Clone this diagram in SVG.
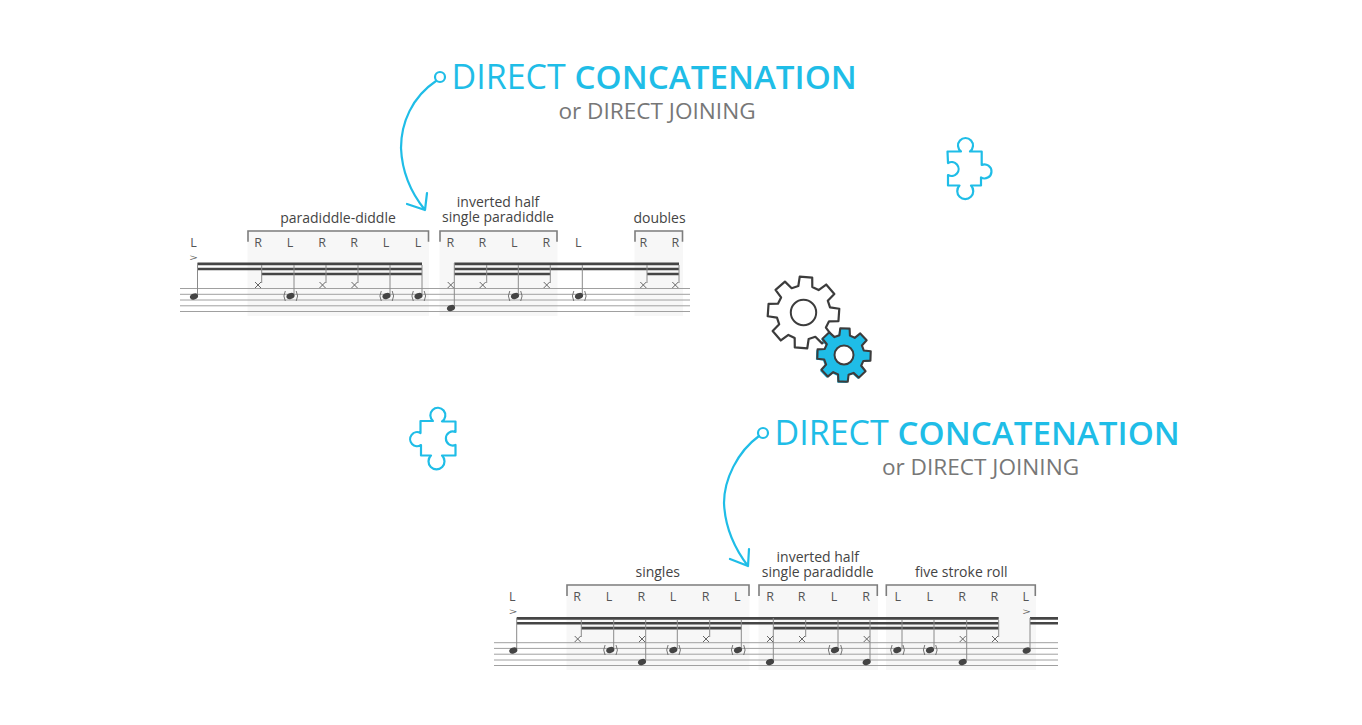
<svg xmlns="http://www.w3.org/2000/svg" width="1362" height="725" viewBox="0 0 1362 725">
<style>
text{font-family:"Open Sans","Noto Sans","Liberation Sans",sans-serif}
.t1{font-size:34px;fill:#1fbde7}
.t1 .b{font-weight:600;font-size:33.2px}
.t2{font-size:22.6px;fill:#777;text-anchor:middle}
.lab{font-size:14px;fill:#444;text-anchor:middle}
.hand{font-size:12.5px;fill:#555;text-anchor:middle}
.acc{font-size:13px;fill:#555;text-anchor:middle}
.bg{fill:#f7f7f7}
.brk{fill:none;stroke:#7d7d7d;stroke-width:1.6}
.staff{stroke:#a0a0a0;stroke-width:1;fill:none}
.beam{fill:#454545}
.stem{stroke:#8a8a8a;stroke-width:1;fill:none}
.blue{fill:none;stroke:#1fbde7;stroke-width:2.2;stroke-linecap:round;stroke-linejoin:round}
.gear{stroke:#3c3c3c;stroke-linejoin:round}
</style>
<defs>
<g id="x"><path d="M-3 -3L3 3M3 -3L-3 3" stroke="#666" stroke-width="1" fill="none"/></g>
<ellipse id="n" rx="4.2" ry="3" transform="rotate(-22)" fill="#444"/>
<g id="gn"><ellipse rx="4.2" ry="3" transform="rotate(-22)" fill="#444"/><path d="M-5.2 -5Q-8 0 -5.2 5M5.7 -5Q8.5 0 5.7 5" stroke="#666" stroke-width="0.9" fill="none"/></g>
<path id="gear" d="M-7 -26.1L-6.25 -35.45L6.25 -35.45L7 -26.1L13.5 -23.4L20.65 -29.49L29.49 -20.65L23.4 -13.5L26.1 -7L35.45 -6.25L35.45 6.25L26.1 7L23.4 13.5L29.49 20.65L20.65 29.49L13.5 23.4L7 26.1L6.25 35.45L-6.25 35.45L-7 26.1L-13.5 23.4L-20.65 29.49L-29.49 20.65L-23.4 13.5L-26.1 7L-35.45 6.25L-35.45 -6.25L-26.1 -7L-23.4 -13.5L-29.49 -20.65L-20.65 -29.49L-13.5 -23.4Z"/>
</defs>
<rect width="1362" height="725" fill="#fff"/>

<g id="title-top">
<text class="t1" x="451.5" y="89">DIRECT <tspan class="b">CONCATENATION</tspan></text>
<text class="t2" x="657" y="119">or DIRECT JOINING</text>
</g>
<g id="title-bottom">
<text class="t1" x="774.5" y="445">DIRECT <tspan class="b">CONCATENATION</tspan></text>
<text class="t2" x="980.5" y="475">or DIRECT JOINING</text>
</g>

<g id="connectors">
<g id="arrow-top" class="blue">
<circle cx="440" cy="77" r="5"/>
<path d="M436 81C412 97 401 123 401 148C402 172 412 194 425 210M407 204L425 210L427 193"/>
</g>
<g id="arrow-bottom" class="blue">
<circle cx="763" cy="433" r="5"/>
<path d="M759 436C737 452 724 480 724 503C725 527 735 549 748 566M730 559L748 566L749 549"/>
</g>
</g>

<g id="puzzle-top"><path class="blue" d="M947.5 151.5H961A7.5 7.5 0 1 1 970 151.5H981.7V165A7 7 0 1 1 981 177.5V185.5H971A8 8 0 1 1 959.5 185.5H948V175A7 7 0 1 0 948 163Z" stroke-width="1.8"/></g>
<g id="puzzle-bottom"><path class="blue" d="M420.5 421H433A7.5 7.5 0 1 1 442 421.5H455.5V432A7 7 0 1 0 455.5 445V455.5H442A8 8 0 1 1 431 455.5H421V445A7 7 0 1 1 420.5 433Z" stroke-width="1.8"/></g>

<g id="gears">
<g id="gear-large" transform="translate(803.5 312.5) rotate(4)"><use href="#gear" class="gear" fill="#fff" stroke-width="2.2"/></g>
<circle cx="803.5" cy="312.5" r="12.7" fill="#fff" stroke="#3c3c3c" stroke-width="2"/>
<g id="gear-small">
<use href="#gear" transform="translate(843 356) rotate(2) scale(.76)" fill="#1fbde7"/>
<use href="#gear" transform="translate(844 355) rotate(2) scale(.75)" class="gear" fill="#1fbde7" stroke-width="2.8"/>
<circle cx="844" cy="355" r="9.5" fill="#fff" stroke="#3c3c3c" stroke-width="2"/>
</g>
</g>

<g id="staff-top">
<rect class="bg" x="247.5" y="230" width="181.5" height="86"/>
<rect class="bg" x="439.5" y="230" width="118" height="86"/>
<rect class="bg" x="634.5" y="230" width="48.5" height="86"/>
<path class="staff" d="M180 288.5H690M180 294.3H690M180 300H690M180 305.8H690M180 311.5H690"/>
<path class="brk" d="M248 241.7V231H428.5V241.7M440 241.7V231H557V241.7M635 241.7V231H682.5V241.7"/>
<path class="beam" d="M197.5 262.5H422V265.2H197.5ZM197.5 267.7H422V270.3H197.5ZM261.7 272.7H422V275.3H261.7ZM454.3 262.5H679V265.2H454.3ZM454.3 267.7H679V270.3H454.3ZM454.3 272.7H550.3V275.3H454.3ZM647 272.7H679V275.3H647Z"/>
<path class="stem" d="M197.5 263V295M261.7 265V283M294 265V294M326 265V283M358 265V283M390 265V294M422 265V294M454.3 263V306M486.7 265V283M518.3 265V294M550.3 265V283M582.3 265V294M647 265V283M679 265V283"/>
<use href="#n" x="194" y="296.5"/>
<use href="#gn" x="290.5" y="296"/><use href="#gn" x="386.5" y="296"/><use href="#gn" x="418.5" y="296"/>
<use href="#gn" x="515" y="296"/><use href="#gn" x="579" y="296"/>
<use href="#n" x="451" y="308"/>
<use href="#x" x="258" y="285"/><use href="#x" x="322.5" y="285"/><use href="#x" x="354.5" y="285"/><use href="#x" x="450.7" y="285"/><use href="#x" x="482.7" y="285"/><use href="#x" x="546.7" y="285"/><use href="#x" x="643.3" y="285"/><use href="#x" x="675.3" y="285"/>
<text class="lab" x="338" y="222.5">paradiddle-diddle</text>
<text class="lab"><tspan x="498" y="206.5">inverted half</tspan><tspan x="498" y="221.5">single paradiddle</tspan></text>
<text class="lab" x="659.5" y="222.5">doubles</text>
<text class="hand"><tspan x="193.5" y="247">L</tspan><tspan x="258" y="247">R</tspan><tspan x="290" y="247">L</tspan><tspan x="322" y="247">R</tspan><tspan x="354" y="247">R</tspan><tspan x="386" y="247">L</tspan><tspan x="418" y="247">L</tspan><tspan x="450.3" y="247">R</tspan><tspan x="482.3" y="247">R</tspan><tspan x="514.3" y="247">L</tspan><tspan x="546.3" y="247">R</tspan><tspan x="578.3" y="247">L</tspan><tspan x="643.3" y="247">R</tspan><tspan x="675.3" y="247">R</tspan></text>
<text class="acc" transform="translate(193.7 260.5) scale(1.1 .7)">&gt;</text>
</g>

<g id="staff-bottom">
<rect class="bg" x="566.5" y="584" width="183" height="86"/>
<rect class="bg" x="758.5" y="584" width="119.5" height="86"/>
<rect class="bg" x="886" y="584" width="150" height="86"/>
<path class="staff" d="M494 642.7H1058M494 648.4H1058M494 654.2H1058M494 660H1058M494 665.5H1058"/>
<path class="brk" d="M567 596V585H749V596M759 596V585H877.3V596M886.3 596V585H1035.3V596"/>
<path class="beam" d="M516.7 617H998.7V619.7H516.7ZM516.7 622H998.7V624.6H516.7ZM581.3 626.8H741.3V629.4H581.3ZM773.3 626.8H998.7V629.4H773.3ZM1030 617H1058V619.7H1030ZM1030 622H1058V624.6H1030Z"/>
<path class="stem" d="M516.7 618V649M581.3 620V637M613.7 620V648M645.7 620V660M677.3 620V648M709.7 620V637M741.3 620V648M773.3 618V660M805.7 620V637M838 620V648M870 620V660M902 620V648M934 620V648M966.7 620V660M998.7 620V637M1030 618V649"/>
<use href="#n" x="513.3" y="650.5"/><use href="#n" x="642" y="662"/><use href="#n" x="770" y="662"/><use href="#n" x="866.7" y="662"/><use href="#n" x="962.7" y="662"/><use href="#n" x="1026.7" y="650.5"/>
<use href="#gn" x="610.3" y="650"/><use href="#gn" x="673.3" y="650"/><use href="#gn" x="738" y="650"/><use href="#gn" x="835" y="650"/><use href="#gn" x="897.3" y="650"/><use href="#gn" x="930" y="650"/>
<use href="#x" x="577.7" y="639"/><use href="#x" x="642" y="639"/><use href="#x" x="706" y="639"/><use href="#x" x="770" y="639"/><use href="#x" x="802" y="639"/><use href="#x" x="866.7" y="639"/><use href="#x" x="962.7" y="639"/><use href="#x" x="995" y="639"/>
<text class="lab" x="657.7" y="576.5">singles</text>
<text class="lab"><tspan x="817.7" y="561.5">inverted half</tspan><tspan x="817.7" y="576.5">single paradiddle</tspan></text>
<text class="lab" x="961.3" y="576.5">five stroke roll</text>
<text class="hand"><tspan x="512.3" y="601">L</tspan><tspan x="577" y="601">R</tspan><tspan x="609" y="601">L</tspan><tspan x="641.3" y="601">R</tspan><tspan x="673" y="601">L</tspan><tspan x="705.7" y="601">R</tspan><tspan x="737.3" y="601">L</tspan><tspan x="770" y="601">R</tspan><tspan x="801.7" y="601">R</tspan><tspan x="834" y="601">L</tspan><tspan x="866" y="601">R</tspan><tspan x="897.7" y="601">L</tspan><tspan x="929.7" y="601">L</tspan><tspan x="962" y="601">R</tspan><tspan x="994.3" y="601">R</tspan><tspan x="1025.7" y="601">L</tspan></text>
<text class="acc" transform="translate(513 614.5) scale(1.1 .7)">&gt;</text>
<text class="acc" transform="translate(1026.7 614.5) scale(1.1 .7)">&gt;</text>
</g>
</svg>
